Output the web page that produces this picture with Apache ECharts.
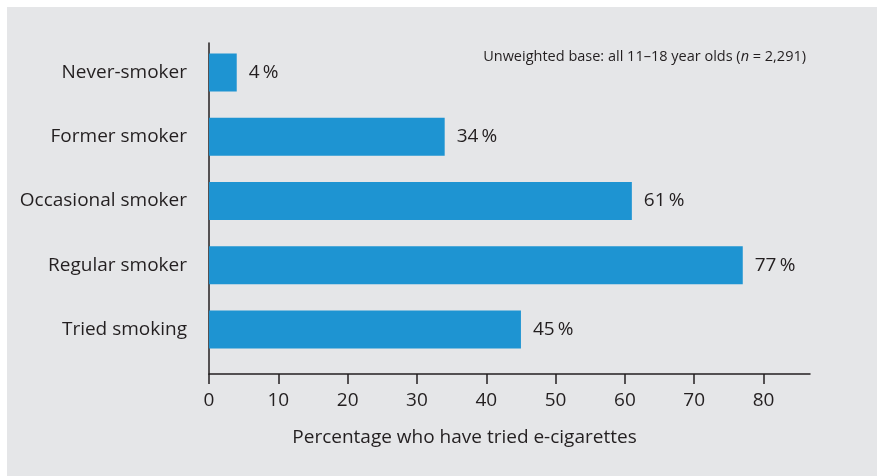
<!DOCTYPE html>
<html lang="en">
<head>
    <meta charset="UTF-8">
    <title>E-cigarettes by smoking status</title>
    <script type="text/javascript" src="https://cdn.jsdelivr.net/npm/echarts@6/dist/echarts.min.js"></script>
    <style>
        html, body { margin: 0; padding: 0; background: #fff; }
        #main { position: absolute; left: 7px; top: 7px; width: 870px; height: 469px; }
    </style>
</head>
<body>
<div id="main"></div>
<script>
    const categories = ['Never-smoker', 'Former smoker', 'Occasional smoker', 'Regular smoker', 'Tried smoking'];
    const tried = [4, 34, 61, 77, 45];
    const xTicks = [0, 10, 20, 30, 40, 50, 60, 70, 80];

    const ink = '#231f20';
    const font = 'Open Sans';
    let myChart = echarts.init(document.getElementById('main'));

    let option = {
        backgroundColor: '#e5e6e8',
        animation: false,
        textStyle: { fontFamily: font, color: ink },
        title: {
            text: 'Unweighted base: all 11\u201318 year olds ({i|n} = 2,291)',
            right: 66,
            top: 37,
            textStyle: {
                fontFamily: font,
                fontSize: 14.5,
                fontWeight: 'normal',
                color: ink,
                rich: { i: { fontFamily: font, fontSize: 14.5, fontStyle: 'italic', color: ink } }
            }
        },
        grid: [
            // bars
            { left: 202, right: 67, top: 33.4, bottom: 114.4 },
            // axes frame (y line runs a little beyond the bars)
            { left: 202, right: 67, top: 36, bottom: 102 }
        ],
        xAxis: [
            { gridIndex: 0, type: 'value', min: 0, max: 86.7, show: false },
            {
                gridIndex: 1, type: 'value', min: 0, max: 86.7, interval: 10,
                name: 'Percentage who have tried e-cigarettes',
                nameLocation: 'middle',
                nameGap: 54,
                nameTextStyle: { fontFamily: font, fontSize: 19, color: ink, padding: [0, 90, 0, 0] },
                axisLine: { show: true, lineStyle: { color: ink, width: 1.5 } },
                axisTick: { show: true, length: 10, lineStyle: { color: ink, width: 1.5 } },
                axisLabel: {
                    fontFamily: font, fontSize: 19, color: ink, margin: 17,
                    showMaxLabel: false,
                    formatter: v => xTicks.indexOf(v) >= 0 ? String(v) : ''
                },
                splitLine: { show: false }
            }
        ],
        yAxis: [
            {
                gridIndex: 0, type: 'category', data: categories, inverse: true,
                axisLine: { show: false },
                axisTick: { show: false },
                axisLabel: { fontFamily: font, fontSize: 19, color: ink, margin: 22 }
            },
            {
                gridIndex: 1, type: 'value', min: 0, max: 1,
                axisLine: { show: true, lineStyle: { color: ink, width: 1.5 } },
                axisTick: { show: false },
                axisLabel: { show: false },
                splitLine: { show: false }
            }
        ],
        series: [
            {
                type: 'bar',
                xAxisIndex: 0,
                yAxisIndex: 0,
                data: tried,
                barCategoryGap: '41%',
                itemStyle: { color: '#1e94d2' },
                label: {
                    show: true,
                    position: 'right',
                    distance: 12,
                    fontFamily: font,
                    fontSize: 19,
                    color: ink,
                    formatter: p => p.value + '\u2009%'
                }
            }
        ]
    };

    myChart.setOption(option);
</script>
</body>
</html>
